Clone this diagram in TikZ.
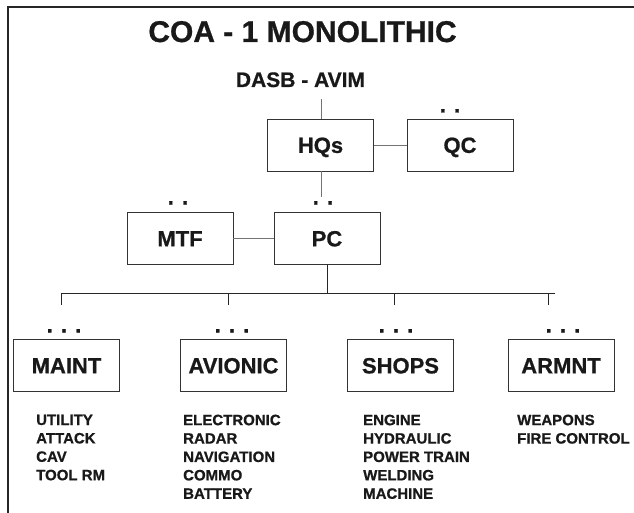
\documentclass[tikz,border=0pt]{standalone}
\usepackage{fontspec}
\setmainfont{Liberation Sans}[BoldFeatures={FakeBold=0.8}]
\begin{document}
\begin{tikzpicture}[x=1pt,y=-1pt,
  txt/.style={inner sep=0pt, text=black!90, font=\bfseries\fontsize{#1}{#1}\selectfont},
  unitbox/.style={draw=black!80, line width=0.8pt, minimum width=106pt, minimum height=52pt,
    inner sep=0pt, text=black!90, font=\bfseries\fontsize{22}{26}\selectfont,
    text height=15.75pt, text depth=0pt},
  dotlbl/.style={inner sep=0pt, anchor=base, text=black!90, font=\bfseries\fontsize{22}{26}\selectfont},
  listlbl/.style={inner sep=0pt, anchor=north west, align=left, text=black!90,
    font=\bfseries\fontsize{15}{18.4}\selectfont},
  link/.style={draw=black!55, line width=0.8pt},
  bus/.style={draw=black!85, line width=0.8pt},
  frame/.style={draw=black!85, line width=1.3pt}
]
\useasboundingbox (0,0) rectangle (634,513);
% frame
\coordinate (fb) at (8,513);
\coordinate (fc) at (8,7);
\coordinate (fr) at (634,7);
\draw[frame] (fb) -- (fc) -- (fr);

% titles
\node[txt=30, anchor=base] (title) at (302.5,42) {COA - 1 MONOLITHIC};
\node[txt=21, anchor=base] (dasb) at (300.5,87) {DASB - AVIM};

% upper boxes
\node[unitbox] (hq) at (320.5,145) {HQs};
\node[unitbox] (qc) at (460,145) {QC};
\node[unitbox] (mtf) at (180,238.5) {MTF};
\node[unitbox] (pc) at (327,238.5) {PC};

\node[dotlbl] (qcd) at (450,112.5) {. .};
\node[dotlbl] (mtfd) at (178,204.5) {. .};
\node[dotlbl] (pcd) at (323,204.5) {. .};

\coordinate (hqtop) at (321,99);
\coordinate (hqbot) at (321,197);
\draw[link] (hqtop) -- (hq.north -| hqtop);
\draw[link] (hq.south -| hqbot) -- (hqbot);
\draw[link] (hq.east) -- (qc.west);
\draw[link] (mtf.east) -- (pc.west);

% bus
\coordinate (bl) at (61,293);
\coordinate (br) at (555,293);
\draw[bus] (pc.south) -- (pc.south |- bl);
\draw[bus] (bl) -- (br);
\foreach \x/\n in {61/a,228/b,394/c,548/d}{
  \coordinate (t\n) at (\x,293);
  \coordinate (e\n) at (\x,305);
  \draw[bus] (t\n) -- (e\n);
}

% lower boxes
\node[unitbox] (maint) at (66.5,365.5) {MAINT};
\node[unitbox] (avi) at (233.5,365.5) {AVIONIC};
\node[unitbox] (shops) at (400.5,365.5) {SHOPS};
\node[unitbox] (armnt) at (561,365.5) {ARMNT};

\node[dotlbl] (d1) at (64,332.5) {. . .};
\node[dotlbl] (d2) at (232,332.5) {. . .};
\node[dotlbl] (d3) at (396,332.5) {. . .};
\node[dotlbl] (d4) at (563,332.5) {. . .};

% lists
\node[listlbl] (l1) at (36,414.5) {UTILITY\\ATTACK\\CAV\\TOOL RM};
\node[listlbl] (l2) at (183,414.5) {ELECTRONIC\\RADAR\\NAVIGATION\\COMMO\\BATTERY};
\node[listlbl] (l3) at (363,414.5) {ENGINE\\HYDRAULIC\\POWER TRAIN\\WELDING\\MACHINE};
\node[listlbl] (l4) at (517,414.5) {WEAPONS\\FIRE CONTROL};
\end{tikzpicture}
\end{document}
